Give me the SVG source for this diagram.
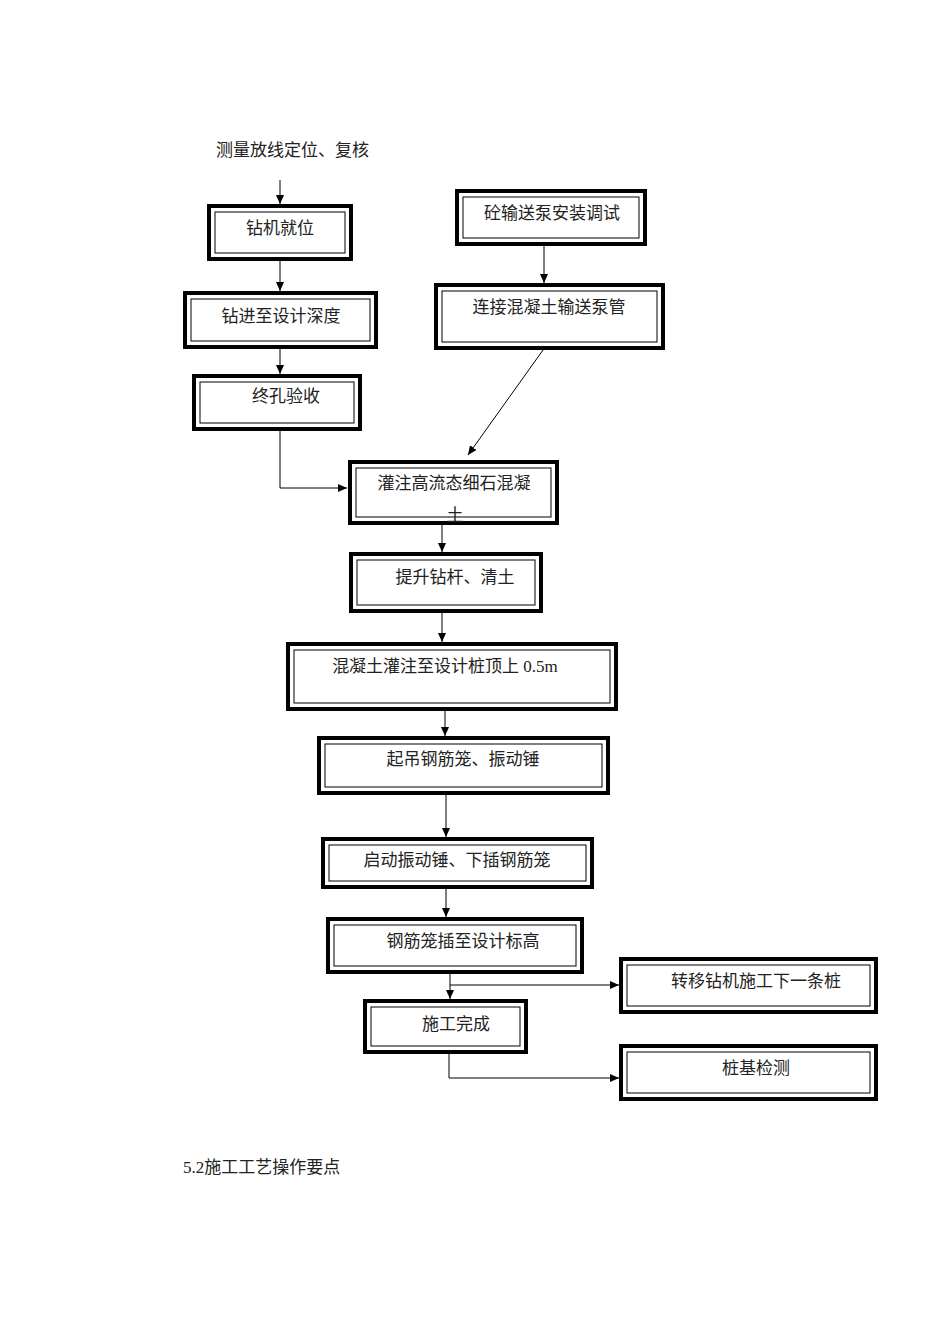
<svg xmlns="http://www.w3.org/2000/svg" width="950" height="1318" viewBox="0 0 950 1318">
<style>
.o{fill:#fff;stroke:#000;stroke-width:4}
.i{fill:none;stroke:#000;stroke-width:1}
text{font-family:"Liberation Serif","Noto Sans CJK SC",serif;font-size:17px;fill:#222}
.c{fill:none;stroke:#000;stroke-width:1}
</style>
<defs><marker id="a" markerWidth="10" markerHeight="10" refX="9" refY="5" orient="auto" markerUnits="userSpaceOnUse"><path d="M0,1 L9,5 L0,9 z" fill="#000"/></marker></defs>
<rect width="950" height="1318" fill="#fff"/>
<text x="216" y="156">测量放线定位、复核</text>
<text x="183" y="1173">5.2施工工艺操作要点</text>
<g id="n1"><rect class="o" x="209" y="206" width="142" height="53"/><rect class="i" x="215" y="212" width="130" height="41"/><text x="280" y="234" text-anchor="middle">钻机就位</text></g>
<g id="n2"><rect class="o" x="185" y="293" width="191" height="54"/><rect class="i" x="191" y="299" width="179" height="42"/><text x="281" y="322" text-anchor="middle">钻进至设计深度</text></g>
<g id="n3"><rect class="o" x="194" y="376" width="166" height="53"/><rect class="i" x="200" y="382" width="154" height="41"/><text x="286" y="402" text-anchor="middle">终孔验收</text></g>
<g id="n4"><rect class="o" x="457" y="191" width="188" height="53"/><rect class="i" x="463" y="197" width="176" height="41"/><text x="552" y="219" text-anchor="middle">砼输送泵安装调试</text></g>
<g id="n5"><rect class="o" x="436" y="285" width="227" height="63"/><rect class="i" x="442" y="291" width="215" height="51"/><text x="549" y="313" text-anchor="middle">连接混凝土输送泵管</text></g>
<g id="n6"><rect class="o" x="350" y="462" width="207" height="61"/><rect class="i" x="356" y="468" width="195" height="49"/><text x="454" y="489" text-anchor="middle">灌注高流态细石混凝</text><text x="455" y="521" text-anchor="middle">土</text></g>
<g id="n7"><rect class="o" x="351" y="554" width="190" height="57"/><rect class="i" x="357" y="560" width="178" height="45"/><text x="455" y="583" text-anchor="middle">提升钻杆、清土</text></g>
<g id="n8"><rect class="o" x="288" y="644" width="328" height="65"/><rect class="i" x="294" y="650" width="316" height="53"/><text x="445" y="672" text-anchor="middle">混凝土灌注至设计桩顶上 0.5m</text></g>
<g id="n9"><rect class="o" x="319" y="738" width="289" height="55"/><rect class="i" x="325" y="744" width="277" height="43"/><text x="463" y="765" text-anchor="middle">起吊钢筋笼、振动锤</text></g>
<g id="n10"><rect class="o" x="323" y="839" width="269" height="48"/><rect class="i" x="329" y="845" width="257" height="36"/><text x="457" y="866" text-anchor="middle">启动振动锤、下插钢筋笼</text></g>
<g id="n11"><rect class="o" x="328" y="919" width="254" height="53"/><rect class="i" x="334" y="925" width="242" height="41"/><text x="463" y="947" text-anchor="middle">钢筋笼插至设计标高</text></g>
<g id="n12"><rect class="o" x="621" y="959" width="255" height="53"/><rect class="i" x="627" y="965" width="243" height="41"/><text x="756" y="987" text-anchor="middle">转移钻机施工下一条桩</text></g>
<g id="n13"><rect class="o" x="365" y="1001" width="161" height="51"/><rect class="i" x="371" y="1007" width="149" height="39"/><text x="456" y="1030" text-anchor="middle">施工完成</text></g>
<g id="n14"><rect class="o" x="621" y="1046" width="255" height="53"/><rect class="i" x="627" y="1052" width="243" height="41"/><text x="756" y="1074" text-anchor="middle">桩基检测</text></g>
<g id="connectors">
<path class="c" d="M280,180 V204" marker-end="url(#a)"/>
<path class="c" d="M280,261 V291" marker-end="url(#a)"/>
<path class="c" d="M280,349 V374" marker-end="url(#a)"/>
<path class="c" d="M280,431 V488 H347" marker-end="url(#a)"/>
<path class="c" d="M544,246 V283" marker-end="url(#a)"/>
<path class="c" d="M543,350 L468,455" marker-end="url(#a)"/>
<path class="c" d="M442,525 V552" marker-end="url(#a)"/>
<path class="c" d="M442,613 V642" marker-end="url(#a)"/>
<path class="c" d="M445,711 V736" marker-end="url(#a)"/>
<path class="c" d="M446,795 V837" marker-end="url(#a)"/>
<path class="c" d="M446,889 V917" marker-end="url(#a)"/>
<path class="c" d="M450,974 V999" marker-end="url(#a)"/>
<path class="c" d="M450,985 H619" marker-end="url(#a)"/>
<path class="c" d="M449,1053 V1078 H619" marker-end="url(#a)"/>
</g>
</svg>
